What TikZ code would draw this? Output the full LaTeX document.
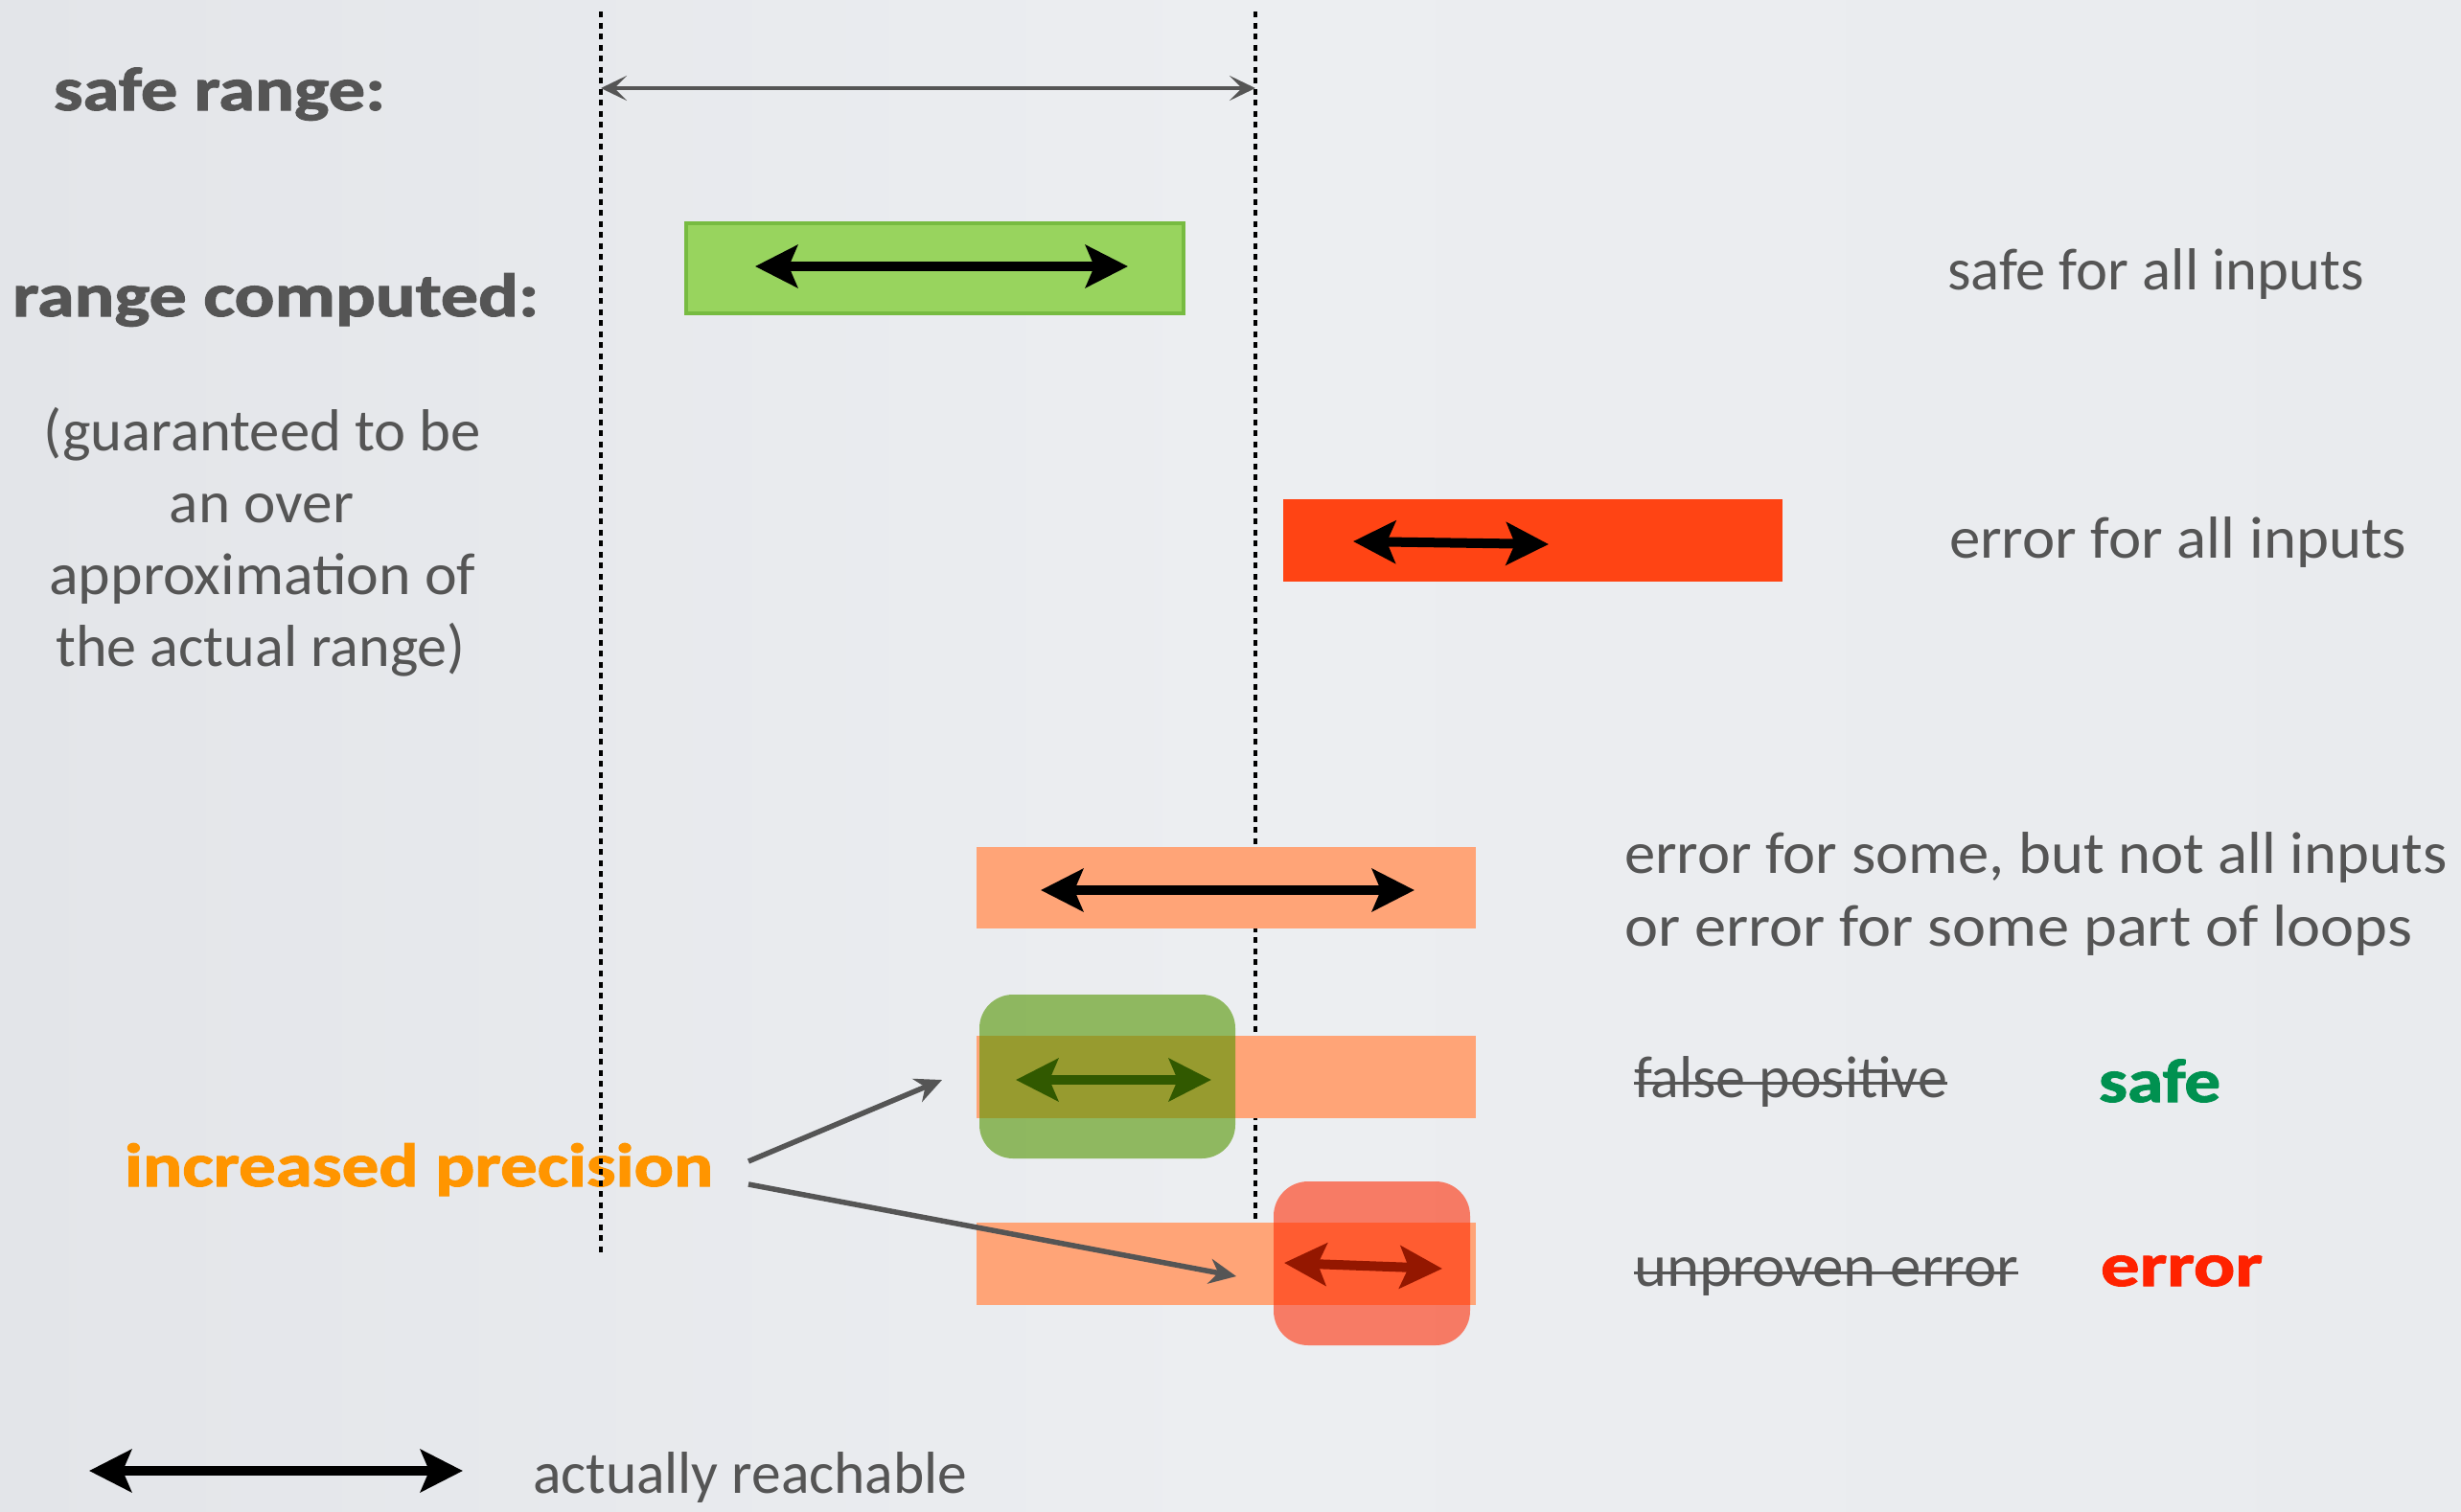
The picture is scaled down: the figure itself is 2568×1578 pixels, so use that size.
\documentclass[tikz,border=0pt]{standalone}
\usepackage{fontspec}
\setmainfont{Carlito}[BoldFeatures={FakeBold=1.6}]
\usepackage{graphicx}
\usetikzlibrary{arrows.meta}

\definecolor{bgleft}{RGB}{227,229,233}
\definecolor{bgmid}{RGB}{236,238,241}
\definecolor{bgright}{RGB}{233,235,238}
\definecolor{txtgray}{RGB}{85,85,85}
\definecolor{gfill}{RGB}{152,212,94}
\definecolor{gedge}{RGB}{119,187,65}
\definecolor{redbar}{RGB}{255,68,20}
\definecolor{salmon}{RGB}{255,164,119}
\definecolor{gover}{RGB}{82,149,0}
\definecolor{rover}{RGB}{255,40,0}
\definecolor{safegreen}{RGB}{0,145,80}
\definecolor{errred}{RGB}{255,34,0}
\definecolor{precorange}{RGB}{255,149,0}

% regular and bold text, stretched to a given width (in cm)
\newcommand\rw[2]{\resizebox{#1cm}{\height}{\fontsize{17.6pt}{17.6pt}\selectfont #2}}
\newcommand\bw[2]{\resizebox{#1cm}{\height}{\fontsize{18.2pt}{18.2pt}\selectfont\bfseries #2}}

\tikzset{
  txt/.style={inner sep=0pt, outer sep=0pt, text=txtgray, anchor=base west},
  ctr/.style={txt, anchor=base},
  dotline/.style={black, line width=0.035cm, dash pattern=on 0.06cm off 0.055cm},
  reach/.style={black, line width=0.1cm, >={Stealth[length=0.44cm,width=0.44cm,inset=0.09cm]}, <->},
  rangearrow/.style={txtgray, line width=0.045cm, >={Stealth[length=0.27cm,width=0.26cm,inset=0.13cm]}, <->},
  pointer/.style={txtgray, line width=0.055cm, ->, >={Stealth[length=0.28cm,width=0.26cm,inset=0.09cm]}},
  strike/.style={txtgray, line width=0.03cm},
}

\begin{document}
\begin{tikzpicture}[x=0.01cm, y=-0.01cm]
\useasboundingbox (0,0) rectangle (2568,1578);
\shade[left color=bgleft, right color=bgright, middle color=bgmid] (0,0) rectangle (2568,1578);

% labels on the left
\node[txt] (saferange) at (56,115) {\bw{3.46}{safe range:}};
\node[txt] (computed) at (13,330) {\bw{5.49}{range computed:}};
\node[ctr] (note1) at (274,470) {\rw{4.56}{(guaranteed to be}};
\node[ctr] (note2) at (273,545) {\rw{1.92}{an over}};
\node[ctr] (note3) at (274,620) {\rw{4.45}{approximation of}};
\node[ctr] (note4) at (272,695) {\rw{4.27}{the actual range)}};
\node[txt, text=precorange] (precision) at (130,1238) {\bw{6.14}{increased precision}};

% bounds of the safe range
\coordinate (lotop) at (627,12);
\coordinate (lobot) at (627,1310);
\coordinate (hitop) at (1310,12);
\coordinate (hibot) at (1310,1272);
\draw[dotline] (lotop) -- (lobot);
\draw[dotline] (hitop) -- (hibot);
\coordinate (sl) at (627,92);
\coordinate (sr) at (1310,92);
\draw[rangearrow] (sl) -- (sr);

% computed range: safe for all inputs
\filldraw[fill=gfill, draw=gedge, line width=0.04cm] (716,233) rectangle (1235,327);
\coordinate (a1l) at (788,278);
\coordinate (a1r) at (1177,278);
\draw[reach] (a1l) -- (a1r);

% computed range: error for all inputs
\fill[redbar] (1339,521) rectangle (1860,607);
\coordinate (a2l) at (1412,565);
\coordinate (a2r) at (1616,568);
\draw[reach] (a2l) -- (a2r);

% computed range: error for some inputs
\fill[salmon] (1019,884) rectangle (1540,969);
\coordinate (a3l) at (1086,929);
\coordinate (a3r) at (1476,929);
\draw[reach] (a3l) -- (a3r);

% false positive, refined to safe
\fill[salmon] (1019,1081) rectangle (1540,1167);
\coordinate (a4l) at (1060,1127);
\coordinate (a4r) at (1264,1127);
\draw[reach] (a4l) -- (a4r);
\fill[gover, fill opacity=0.6, rounded corners=0.35cm] (1022,1038) rectangle (1289,1209);

% unproven error, refined to error
\fill[salmon] (1019,1276) rectangle (1540,1362);
\coordinate (a5l) at (1340,1318);
\coordinate (a5r) at (1505,1324);
\draw[reach] (a5l) -- (a5r);
\fill[rover, fill opacity=0.58, rounded corners=0.36cm] (1329,1233) rectangle (1534,1404);

% pointers from the precision label
\coordinate (p1s) at (781,1212);
\coordinate (p1e) at (983,1127);
\coordinate (p2s) at (781,1236);
\coordinate (p2e) at (1290,1332);
\draw[pointer] (p1s) -- (p1e);
\draw[pointer] (p2s) -- (p2e);

% descriptions on the right
\node[txt] (allsafe) at (2032,302) {\rw{4.35}{safe for all inputs}};
\node[txt] (allerr) at (2034,582) {\rw{4.77}{error for all inputs}};
\node[txt] (some1) at (1695,911) {\rw{8.58}{error for some, but not all inputs}};
\node[txt] (some2) at (1695,987) {\rw{8.22}{or error for some part of loops}};
\node[txt] (falsepos) at (1705,1145) {\rw{3.27}{false positive}};
\draw[strike] ([yshift=0.15cm]falsepos.base west) -- ([yshift=0.15cm]falsepos.base east);
\node[txt, text=safegreen] (safe) at (2190,1150) {\bw{1.27}{safe}};
\node[txt] (unproven) at (1705,1342) {\rw{4.01}{unproven error}};
\draw[strike] ([yshift=0.14cm]unproven.base west) -- ([yshift=0.14cm]unproven.base east);
\node[txt, text=errred] (error) at (2192,1342) {\bw{1.69}{error}};

% legend
\coordinate (lgl) at (93,1535);
\coordinate (lgr) at (483,1535);
\draw[reach] (lgl) -- (lgr);
\node[txt] (legend) at (556,1558) {\rw{4.53}{actually reachable}};
\end{tikzpicture}
\end{document}
